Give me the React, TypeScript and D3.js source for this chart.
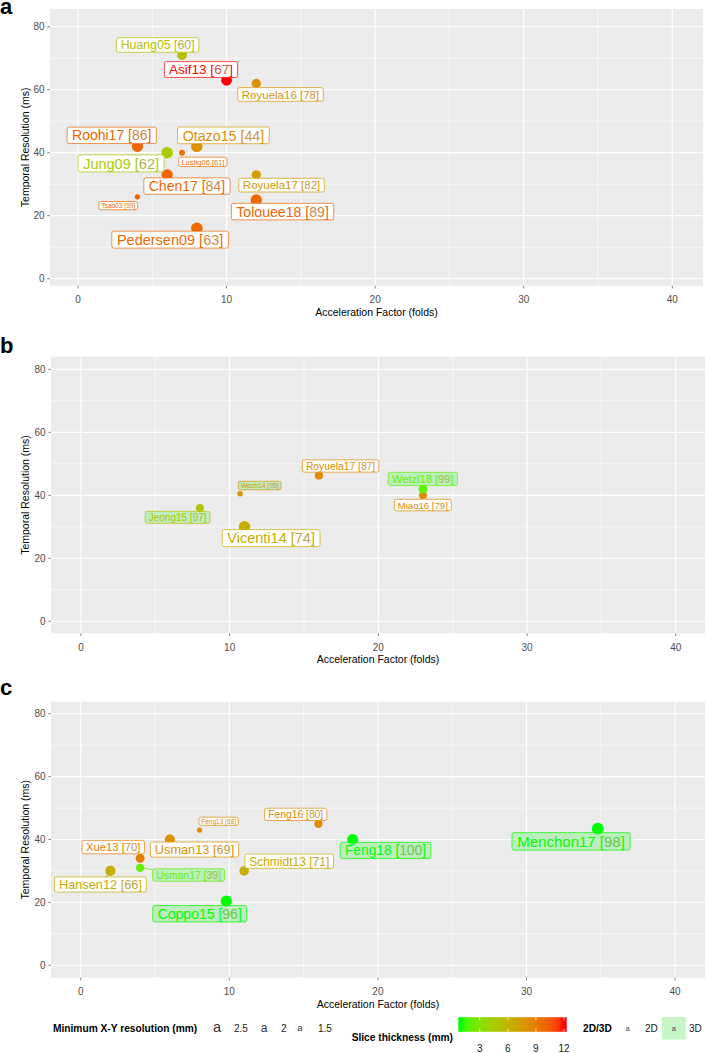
import React, { useEffect, useRef } from "react";
import * as d3 from "d3";

// ---------------- data ----------------
const panelOf = [
  "a","a","a","a","a","a","a","a","a","a","a","a",
  "b","b","b","b","b","b",
  "c","c","c","c","c","c","c","c","c","c",
];
const studies = [
  "Huang05","Asif13","Royuela16","Roohi17","Otazo15","Jung09","Lustig06","Chen17","Royuela17","Tsao03","Tolouee18","Pedersen09",
  "Miao16","Wetzl18","Royuela17","Wech14","Jeong15","Vicenti14",
  "Feng13","Feng16","Menchon17","Feng18","Usman13","Xue13","Usman17","Hansen12","Schmidt13","Coppo15",
];
const refs = [
  60,67,78,86,44,62,61,84,82,59,89,63,
  79,99,87,95,97,74,
  68,80,98,100,69,70,39,66,71,96,
];
// Acceleration factor (folds)
const accelFactor = [
  7,10,12,4,8,6,7,6,12,4,12,8,
  23,23,16,10.7,8,11,
  8,16,34.8,18.3,6,4,4,2,11,9.8,
];
// Temporal resolution (ms)
const temporalRes = [
  71,63,62,42,42,40,40,33,33,26,25,16,
  40,42,46.3,40.5,36,30,
  43,45,43.4,40,40,34,31,30,30,20.4,
];
// Minimum X-Y resolution (mm)
const xyResolution = [
  2.06,2.3,1.9,2.4,2.45,2.5,1.1,2.4,1.9,0.92,2.42,2.5,
  1.52,1.82,1.66,0.96,1.6,2.5,
  0.9,1.66,2.6,2.35,2.15,1.85,1.68,2.15,2.0,2.4,
];
// Slice thickness (mm)
const sliceThickness = [
  5.3,12,8,10,8,4.5,9.5,10,7.5,10,10,9.8,
  8.5,2,8.5,8,5,6.5,
  8.5,8.5,1,1,8,9,2,6.5,6.5,1,
];
const dimension = [
  "2D","2D","2D","2D","2D","2D","2D","2D","2D","2D","2D","2D",
  "2D","3D","2D","3D","3D","2D",
  "2D","2D","3D","3D","2D","2D","3D","2D","2D","3D",
];
// repelled label anchors (in data units), as placed in the figure
const labelAccel = [
  5.36,8.28,13.63,2.27,9.79,2.9,8.41,7.33,13.7,2.71,13.77,6.2,
  22.99,22.99,17.46,12.02,6.5,12.79,
  9.28,14.47,33.0,20.51,7.66,2.19,7.26,1.33,14.03,8.01,
];
const labelTemporal = [
  74.2,66.4,58.5,45.5,45.5,36.6,37.1,29.4,29.7,23.2,21.3,12.4,
  36.9,45.2,49.3,43.1,33.0,26.4,
  45.8,48.0,39.4,36.5,36.8,37.6,28.7,25.7,33.1,16.4,
];

const xTicks = [0, 10, 20, 30, 40];
const xMinor = [5, 15, 25, 35];
const yTicks = [0, 20, 40, 60, 80];
const yMinor = [10, 30, 50, 70];
const sizeBreaks = [2.5, 2, 1.5];
const thicknessBreaks = [3, 6, 9, 12];
const thicknessLimits = [1, 12];
const dimLevels = ["2D", "3D"];
const panelIds = ["a", "b", "c"];

// ---------------- layout ----------------
const W = 705;
const H = 1053;
const FONT = "'Liberation Sans', Arial, Helvetica, sans-serif";
const layouts: Record<string, any> = {
  a: { tagY: 14, left: 50, right: 703, top: 9, bottom: 285.7, x0: 78, x40: 672.3, y0: 278.7, y80: 26.7 },
  b: { tagY: 353, left: 51, right: 705, top: 356.7, bottom: 633.3, x0: 81, x40: 675.7, y0: 621.3, y80: 369.3 },
  c: { tagY: 695, left: 51, right: 705, top: 701.7, bottom: 977.7, x0: 80.7, x40: 675.1, y0: 965.3, y80: 713.7 },
};

export default function App() {
  const ref = useRef<SVGSVGElement>(null);

  useEffect(() => {
    const svg = d3.select(ref.current);
    svg.selectAll("*").remove();

    const fontScale = d3.scaleLinear().domain([1, 2.5]).range([7, 14.5]);
    const colorScale = d3
      .scaleLinear<string>()
      .domain(thicknessLimits)
      .range(["#00ff00", "#ff0000"])
      .interpolate(d3.interpolateLab);
    const fill3D = "rgba(144,238,144,0.5)";

    panelIds.forEach((p) => {
      const L = layouts[p];
      const x = d3.scaleLinear().domain([0, 40]).range([L.x0, L.x40]);
      const y = d3.scaleLinear().domain([0, 80]).range([L.y0, L.y80]);
      const g = svg.append("g");

      g.append("rect")
        .attr("x", L.left).attr("y", L.top)
        .attr("width", L.right - L.left).attr("height", L.bottom - L.top)
        .attr("fill", "#ebebeb");

      const vline = (v: number, w: number) =>
        g.append("line").attr("x1", x(v)).attr("x2", x(v)).attr("y1", L.top).attr("y2", L.bottom)
          .attr("stroke", "#fff").attr("stroke-width", w);
      const hline = (v: number, w: number) =>
        g.append("line").attr("x1", L.left).attr("x2", L.right).attr("y1", y(v)).attr("y2", y(v))
          .attr("stroke", "#fff").attr("stroke-width", w);
      xMinor.forEach((v) => vline(v, 0.6));
      yMinor.forEach((v) => hline(v, 0.6));
      xTicks.forEach((v) => vline(v, 1.2));
      yTicks.forEach((v) => hline(v, 1.2));

      // axes ticks
      xTicks.forEach((v) => {
        g.append("line").attr("x1", x(v)).attr("x2", x(v)).attr("y1", L.bottom).attr("y2", L.bottom + 2.7)
          .attr("stroke", "#333").attr("stroke-width", 0.6);
        g.append("text").attr("x", x(v)).attr("y", L.bottom + 17.5)
          .attr("text-anchor", "middle").attr("font-size", 10).attr("font-family", FONT)
          .attr("fill", "#4d4d4d").text(String(v));
      });
      yTicks.forEach((v) => {
        g.append("line").attr("x1", L.left - 2.7).attr("x2", L.left).attr("y1", y(v)).attr("y2", y(v))
          .attr("stroke", "#333").attr("stroke-width", 0.6);
        g.append("text").attr("x", L.left - 5.5).attr("y", y(v) + 3.6)
          .attr("text-anchor", "end").attr("font-size", 10).attr("font-family", FONT)
          .attr("fill", "#4d4d4d").text(String(v));
      });

      // axis titles
      g.append("text")
        .attr("x", (L.left + L.right) / 2).attr("y", L.bottom + 30)
        .attr("text-anchor", "middle").attr("font-size", 10.5).attr("font-family", FONT)
        .attr("fill", "#000").text("Acceleration Factor (folds)");
      const cyMid = (L.top + L.bottom) / 2;
      g.append("text")
        .attr("transform", `translate(28.5,${cyMid}) rotate(-90)`)
        .attr("text-anchor", "middle").attr("font-size", 10.5).attr("font-family", FONT)
        .attr("fill", "#000").text("Temporal Resolution (ms)");

      // panel tag
      g.append("text").attr("x", 0).attr("y", L.tagY)
        .attr("font-size", 22).attr("font-weight", "bold").attr("font-family", FONT)
        .attr("fill", "#000").text(p);

      const idx = d3.range(studies.length).filter((i) => panelOf[i] === p);

      // points
      idx.forEach((i) => {
        const fs = fontScale(xyResolution[i]);
        g.append("circle")
          .attr("cx", x(accelFactor[i])).attr("cy", y(temporalRes[i]))
          .attr("r", fs * 0.4)
          .attr("fill", colorScale(sliceThickness[i]));
      });

      // labels
      idx.forEach((i) => {
        const fs = fontScale(xyResolution[i]);
        const col = colorScale(sliceThickness[i]);
        const digitCol = d3.interpolateRgb(col, "#b4a080")(0.55);
        const lg = g.append("g");
        const seg = lg.append("line");
        const rect = lg.append("rect");
        const t = lg.append("text")
          .attr("font-size", fs).attr("font-family", FONT).attr("fill", col);
        t.append("tspan").text(`${studies[i]} [`);
        t.append("tspan").attr("fill", digitCol).text(String(refs[i]));
        t.append("tspan").text("]");
        const tw = (t.node() as SVGTextElement).getComputedTextLength();
        const w = tw + 0.7 * fs;
        const h = 1.1 * fs + 1;
        const cx = x(labelAccel[i]);
        const cy = y(labelTemporal[i]);
        t.attr("x", cx - tw / 2).attr("y", cy + 0.36 * fs);
        const rx0 = cx - w / 2, ry0 = cy - h / 2;
        rect.attr("x", rx0).attr("y", ry0).attr("width", w).attr("height", h)
          .attr("rx", 2).attr("ry", 2)
          .attr("fill", dimension[i] === "3D" ? fill3D : "#fff")
          .attr("stroke", col).attr("stroke-width", 0.7);

        // segment if label is away from its point
        const px = x(accelFactor[i]);
        const py = y(temporalRes[i]);
        const nx = Math.max(rx0, Math.min(px, rx0 + w));
        const ny = Math.max(ry0, Math.min(py, ry0 + h));
        const dist = Math.hypot(px - nx, py - ny);
        if (dist > 5.5) {
          const dx = cx - px, dy = cy - py;
          let tt = 1;
          const cand: number[] = [];
          if (dx !== 0) {
            [rx0, rx0 + w].forEach((ex) => {
              const s = (ex - px) / dx;
              const yy = py + s * dy;
              if (s > 0 && yy >= ry0 - 0.01 && yy <= ry0 + h + 0.01) cand.push(s);
            });
          }
          if (dy !== 0) {
            [ry0, ry0 + h].forEach((ey) => {
              const s = (ey - py) / dy;
              const xx = px + s * dx;
              if (s > 0 && xx >= rx0 - 0.01 && xx <= rx0 + w + 0.01) cand.push(s);
            });
          }
          if (cand.length) tt = Math.min(...cand);
          seg.attr("x1", px).attr("y1", py).attr("x2", px + tt * dx).attr("y2", py + tt * dy)
            .attr("stroke", col).attr("stroke-width", 0.8);
        } else {
          seg.remove();
        }
      });
    });

    // ---------------- legend ----------------
    const lgd = svg.append("g");
    const rowY = 1028.5;
    lgd.append("text").attr("x", 53).attr("y", rowY + 3.6)
      .attr("font-size", 10.2).attr("font-weight", "bold").attr("font-family", FONT)
      .attr("fill", "#000").text("Minimum X-Y resolution (mm)");
    const keyX = [217, 264, 300];
    const labX = [234, 281, 318];
    sizeBreaks.forEach((b, k) => {
      lgd.append("text").attr("x", keyX[k]).attr("y", rowY + fontScale(b) * 0.26)
        .attr("text-anchor", "middle").attr("font-size", fontScale(b)).attr("font-family", FONT)
        .attr("fill", "#333").text("a");
      lgd.append("text").attr("x", labX[k]).attr("y", rowY + 3.6)
        .attr("font-size", 10).attr("font-family", FONT).attr("fill", "#1a1a1a").text(String(b));
    });

    // colour bar
    const barX0 = 458.3, barX1 = 566.7, barY0 = 1017.2, barY1 = 1031.8;
    const defs = svg.append("defs");
    const grad = defs.append("linearGradient").attr("id", "thickGrad")
      .attr("x1", "0%").attr("x2", "100%").attr("y1", "0%").attr("y2", "0%");
    d3.range(21).forEach((k) => {
      const v = thicknessLimits[0] + ((thicknessLimits[1] - thicknessLimits[0]) * k) / 20;
      grad.append("stop").attr("offset", `${(0.025 + (0.95 * k) / 20) * 100}%`)
        .attr("stop-color", colorScale(v));
    });
    lgd.append("rect").attr("x", barX0).attr("y", barY0)
      .attr("width", barX1 - barX0).attr("height", barY1 - barY0)
      .attr("fill", "url(#thickGrad)");
    const barScale = d3.scaleLinear().domain(thicknessLimits)
      .range([barX0 + 0.025 * (barX1 - barX0), barX0 + 0.975 * (barX1 - barX0)]);
    thicknessBreaks.forEach((b) => {
      const bx = barScale(b);
      lgd.append("line").attr("x1", bx).attr("x2", bx).attr("y1", barY0).attr("y2", barY0 + 3)
        .attr("stroke", "#fff").attr("stroke-width", 0.8);
      lgd.append("line").attr("x1", bx).attr("x2", bx).attr("y1", barY1 - 3).attr("y2", barY1)
        .attr("stroke", "#fff").attr("stroke-width", 0.8);
      lgd.append("text").attr("x", bx).attr("y", 1051.5)
        .attr("text-anchor", "middle").attr("font-size", 10).attr("font-family", FONT)
        .attr("fill", "#1a1a1a").text(String(b));
    });
    lgd.append("text").attr("x", 453).attr("y", 1040.5)
      .attr("text-anchor", "end").attr("font-size", 10.2).attr("font-weight", "bold")
      .attr("font-family", FONT).attr("fill", "#000").text("Slice thickness (mm)");

    // 2D / 3D
    lgd.append("text").attr("x", 583).attr("y", rowY + 3.6)
      .attr("font-size", 10.2).attr("font-weight", "bold").attr("font-family", FONT)
      .attr("fill", "#000").text("2D/3D");
    const dimKeyX = [615.5, 661.7];
    const dimLabX = [645, 689];
    dimLevels.forEach((d, k) => {
      lgd.append("rect").attr("x", dimKeyX[k]).attr("y", 1017).attr("width", 24.3).attr("height", 22.5)
        .attr("fill", d === "3D" ? fill3D : "#fff");
      lgd.append("text").attr("x", dimKeyX[k] + 12.15).attr("y", rowY + 2)
        .attr("text-anchor", "middle").attr("font-size", 7.5).attr("font-family", FONT)
        .attr("fill", "#444").text("a");
      lgd.append("text").attr("x", dimLabX[k]).attr("y", rowY + 3.6)
        .attr("font-size", 10).attr("font-family", FONT).attr("fill", "#1a1a1a").text(d);
    });
  }, []);

  return (
    <svg
      ref={ref}
      width={W}
      height={H}
      style={{ position: "absolute", left: 0, top: 0, background: "#fff", display: "block" }}
    />
  );
}
